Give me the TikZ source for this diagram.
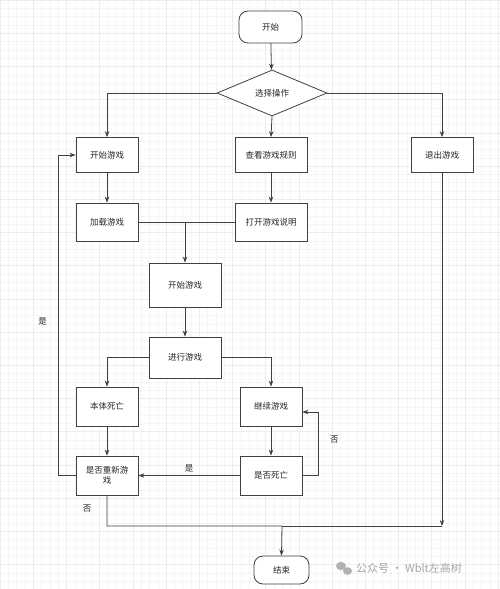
\documentclass[tikz,border=0pt]{standalone}
\usepackage{fontspec}
\setmainfont{Noto Sans CJK SC}
\usetikzlibrary{arrows.meta,shapes.geometric}
\begin{document}
\begin{tikzpicture}[x=1pt,y=-1pt,
  every node/.style={font=\fontsize{8.5}{10}\selectfont, text=black!85},
  box/.style={draw=black!75, line width=0.8pt, fill=white, minimum width=62pt, minimum height=37pt, inner sep=1pt, align=center},
  wbox/.style={box, minimum width=72pt},
  term/.style={draw=black!75, line width=0.8pt, fill=white, rounded corners=9pt, minimum height=32pt, inner sep=1pt},
  dec/.style={draw=black!75, line width=0.8pt, fill=white, diamond, aspect=2.4, minimum width=110pt, minimum height=46pt, inner sep=0pt},
  conn/.style={draw=black!75, line width=0.8pt},
  arr/.style={conn, -{Stealth[length=6pt,width=4.5pt]}},
  lbl/.style={font=\fontsize{8.5}{10}\selectfont}
]
\useasboundingbox (0,0) rectangle (500,589);
\fill[white] (0,0) rectangle (500,589);
% grid
\foreach \i in {0,...,60} {
  \draw[black!4, line width=0.4pt] ({\i*8.3},0) -- ({\i*8.3},589);
}
\foreach \j in {0,...,71} {
  \draw[black!4, line width=0.4pt] (0,{\j*8.3}) -- (500,{\j*8.3});
}
\foreach \i in {0,...,15} {
  \draw[black!7, line width=0.4pt] ({\i*33.2},0) -- ({\i*33.2},589);
}
\foreach \j in {0,...,17} {
  \draw[black!7, line width=0.4pt] (0,{\j*33.2}) -- (500,{\j*33.2});
}

% nodes
\node[term, minimum width=63pt] (start) at (270.5,27) {开始};
\node[dec] (choice) at (272,93) {选择操作};
\node[box, minimum height=35pt] (play) at (107,155) {开始游戏};
\node[wbox, minimum height=35pt] (rules) at (271,155) {查看游戏规则};
\node[box, minimum height=35pt] (quit) at (442,155) {退出游戏};
\node[box, minimum height=38pt] (load) at (107,222) {加载游戏};
\node[wbox, minimum height=38pt] (open) at (271,222) {打开游戏说明};
\node[wbox, minimum height=44pt] (begin) at (185,285) {开始游戏};
\node[wbox, minimum height=41pt] (run) at (185,357.5) {进行游戏};
\node[box, minimum height=39pt] (dead) at (107,406.5) {本体死亡};
\node[box, minimum height=39pt] (cont) at (271,406.5) {继续游戏};
\node[box, minimum height=39pt, text width=56pt] (retry) at (107,475.5) {是否重新游\\戏};
\node[box, minimum height=39pt] (isdead) at (271,475.5) {是否死亡};
\node[term, minimum width=55pt, minimum height=28pt] (end) at (281.5,570) {结束};

\coordinate (j1) at (185,222);
\coordinate (qj) at (442,526);
\coordinate (ej) at (282,526);

% connectors
\draw[arr] (start) -- (choice);
\draw[arr] (choice.west) -| (play.north);
\draw[arr] (choice.south) -- (rules.north);
\draw[arr] (choice.east) -| (quit.north);
\draw[arr] (play) -- (load);
\draw[arr] (rules) -- (open);
\draw[conn] (load.east) -- (j1);
\draw[conn] (open.west) -- (j1);
\draw[arr] (j1) -- (begin.north);
\draw[arr] (begin) -- (run);
\draw[arr] (run.west) -| (dead.north);
\draw[arr] (run.east) -| (cont.north);
\draw[arr] (dead) -- (retry);
\draw[arr] (cont) -- (isdead);
\draw[arr] (isdead.west) -- node[lbl, above, pos=0.5] {是} (retry.east);
\draw[arr] (isdead.east) -- ++(16,0) |- node[lbl, pos=0.28, right=8pt] {否} ([yshift=-5.5pt]cont.east);
\draw[arr] (retry.west) -- ++(-17,0) |- node[lbl, pos=0.24, left=8pt] {是} (play.west);
\draw[arr] (quit.south) -- (qj);
\draw[conn] (qj) -- (ej);
\draw[arr] (retry.south) |- node[lbl, pos=0.22, left=12pt] {否} (ej) -- (end.north);

% watermark
\fill[black!30] (341,566) ellipse (5pt and 4.2pt);
\fill[black!30] (347.5,571) ellipse (4.5pt and 3.8pt);
\node[anchor=west, text=black!35, font=\fontsize{11}{12}\selectfont, inner sep=0pt] (wm) at (356,568) {公众号 · Wblt左高树};
\end{tikzpicture}
\end{document}
